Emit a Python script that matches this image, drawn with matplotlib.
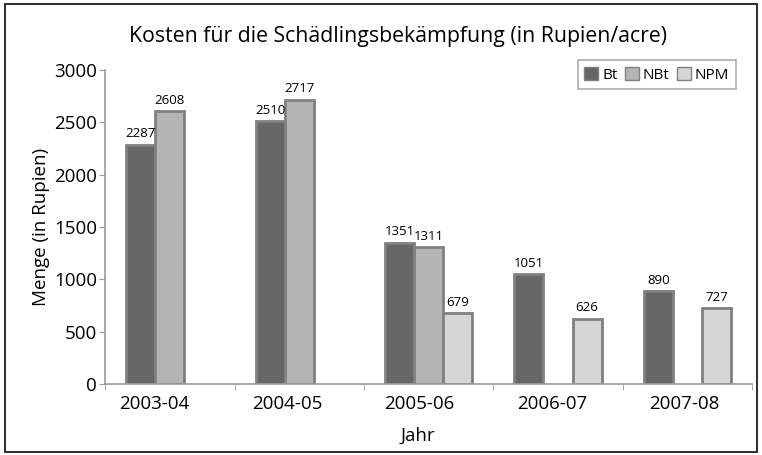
import matplotlib
matplotlib.use('Agg')
import matplotlib.pyplot as plt
from matplotlib.patches import Rectangle
import numpy as np

plt.rcParams['font.family'] = ['Open Sans', 'DejaVu Sans']

years = ['2003-04', '2004-05', '2005-06', '2006-07', '2007-08']
bt = [2287, 2510, 1351, 1051, 890]
nbt = [2608, 2717, 1311, None, None]
npm = [None, None, 679, 626, 727]

series = [('Bt', bt, '#666666'), ('NBt', nbt, '#b4b4b4'), ('NPM', npm, '#d6d6d6')]

fig = plt.figure(figsize=(7.62, 4.55), dpi=100)
ax = fig.add_axes([0.138, 0.156, 0.849, 0.69])

x = np.arange(len(years))
w = 0.225
for k, (name, vals, col) in enumerate(series):
    xs = [x[i] + (k - 1) * w for i, v in enumerate(vals) if v is not None]
    hs = [v for v in vals if v is not None]
    bars = ax.bar(xs, hs, w, color=col, edgecolor='#808080', linewidth=2, label=name)
    for b, v in zip(bars, hs):
        ax.text(b.get_x() + b.get_width() / 2, v + 40, str(v), ha='center', va='bottom', fontsize=9.5)

ax.set_xlim(-0.5, len(years) - 0.5)
ax.set_ylim(0, 3000)
ax.set_yticks(np.arange(0, 3001, 500))
# labels sit a little left of the group centres in the original
ax.set_xticks(x * 1.025 - 0.12)
ax.set_xticklabels(years, fontsize=13.5)
ax.set_xticks(np.arange(-0.5, len(years), 1), minor=True)
ax.tick_params(axis='x', which='major', length=0, pad=8)
ax.tick_params(axis='x', which='minor', length=4, color='#999999')
ax.tick_params(axis='y', length=4, color='#999999', labelsize=13.5, pad=2)
for s in ['top', 'right']:
    ax.spines[s].set_visible(False)
for s in ['left', 'bottom']:
    ax.spines[s].set_color('#999999')
    ax.spines[s].set_linewidth(1.2)

ax.set_ylabel('Menge (in Rupien)', fontsize=13.5, labelpad=3)
fig.text(418 / 762, 1 - 436 / 455, 'Jahr', ha='center', va='center', fontsize=13.5)
fig.text(0.522, 0.92, 'Kosten für die Schädlingsbekämpfung (in Rupien/acre)', ha='center', va='center', fontsize=15.3)

leg = ax.legend(loc='upper right', bbox_to_anchor=(0.975, 1.032), ncol=3, fontsize=11,
                handlelength=0.9, handleheight=0.9, handletextpad=0.25, columnspacing=0.5,
                fancybox=False, edgecolor='#999999', borderpad=0.45, borderaxespad=0)
leg.get_frame().set_linewidth(1.2)
for h in leg.legend_handles:
    h.set_linewidth(1)

fig.patches.append(Rectangle((0.006, 0.007), 0.988, 0.984, transform=fig.transFigure,
                             fill=False, edgecolor='#333333', linewidth=1.5))

fig.savefig('out.png', dpi=100)
